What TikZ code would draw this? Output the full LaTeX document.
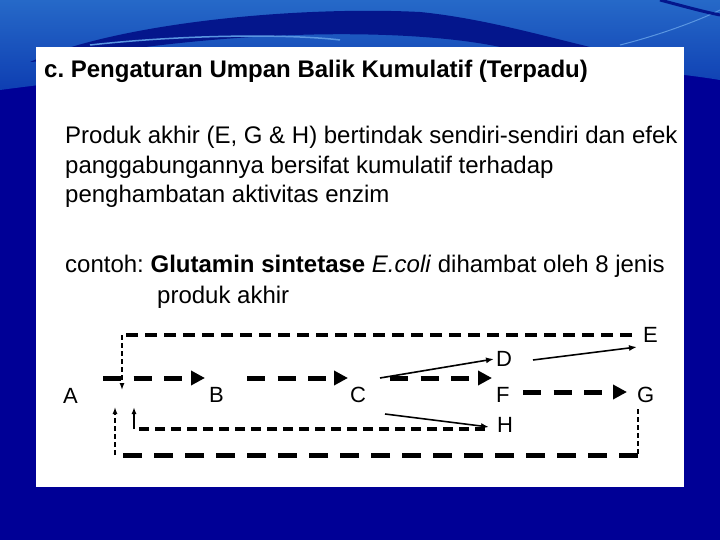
\documentclass[tikz,border=0pt]{standalone}
\usepackage{fontspec}
\setmainfont{Liberation Sans}
\usetikzlibrary{arrows.meta}
\frenchspacing
\definecolor{bgdark}{RGB}{0,0,150}
\definecolor{bglight}{RGB}{38,105,200}
\definecolor{bgmid}{RGB}{14,62,178}
\definecolor{swoosh}{RGB}{4,22,140}
\definecolor{streak}{RGB}{90,150,225}
\tikzset{
  lbl/.style={anchor=base west, inner sep=0pt, font=\fontsize{22}{26}\selectfont},
  txt/.style={anchor=base west, inner sep=0pt, font=\fontsize{24}{29}\selectfont},
  mainarr/.style={line width=5pt, dash pattern=on 18pt off 12.5pt, -{Triangle[length=14pt,width=14pt]}},
  topfb/.style={line width=3.6pt, dash pattern=on 12pt off 7pt},
  hfb/.style={line width=3.3pt, dash pattern=on 10pt off 6pt},
  botfb/.style={line width=5pt, dash pattern=on 19pt off 12pt},
  thindash/.style={line width=1.3pt, dash pattern=on 5pt off 3pt},
  smalltip/.style={-{Latex[length=7pt,width=5pt]}},
  thinarr/.style={line width=1.6pt, -{Latex[length=8pt,width=6pt]}}
}
\begin{document}
\begin{tikzpicture}[x=1pt,y=-1pt]
\useasboundingbox (0,0) rectangle (720,540);
% background
\fill[bgdark] (0,0) rectangle (720,540);
\shade[top color=bglight, bottom color=bgmid] (0,0) -- (720,0) -- (720,80) .. controls (600,60) and (300,50) .. (0,90) -- cycle;
\fill[swoosh] (30,62) .. controls (120,22) and (300,6) .. (420,12) .. controls (480,18) and (540,35) .. (590,47) -- (500,47) .. controls (420,30) and (250,26) .. (60,60) -- cycle;
\draw[streak, line width=1.5pt] (90,45) .. controls (200,33) and (300,35) .. (340,40);
\draw[streak, line width=1pt] (620,45) .. controls (660,35) and (700,20) .. (720,10);
\draw[swoosh, line width=3pt] (660,0) .. controls (690,8) and (705,12) .. (720,15);
% white panel
\fill[white] (36,47) rectangle (684,487);
% texts
\node[anchor=base west, inner sep=0pt, font=\fontsize{24}{29}\selectfont\bfseries] (title) at (44,78) {c. Pengaturan Umpan Balik Kumulatif (Terpadu)};
\node[txt] (p1) at (65,144) {Produk akhir (E, G \& H) bertindak sendiri-sendiri dan efek};
\node[txt] (p2) at (65,174) {panggabungannya bersifat kumulatif terhadap};
\node[txt] (p3) at (65,203) {penghambatan aktivitas enzim};
\node[txt] (c1) at (65,272) {contoh: \textbf{Glutamin sintetase} \textit{E.coli} dihambat oleh 8 jenis};
\node[txt] (c2) at (157,303) {produk akhir};
% labels
\node[lbl] (A) at (63,403) {A};
\node[lbl] (B) at (209,402) {B};
\node[lbl] (C) at (350,402) {C};
\node[lbl] (D) at (496,366) {D};
\node[lbl] (F) at (496,402) {F};
\node[lbl] (H) at (497,432) {H};
\node[lbl] (E) at (643,342) {E};
\node[lbl] (G) at (637,402) {G};
% coordinates
\coordinate (ab0) at (103,378); \coordinate (ab1) at (205,378);
\coordinate (bc0) at (247,378); \coordinate (bc1) at (348,378);
\coordinate (cf0) at (390,378); \coordinate (cf1) at (492,378);
\coordinate (fg0) at (523,392); \coordinate (fg1) at (627,392);
\coordinate (e0) at (632,335); \coordinate (e1) at (122,335); \coordinate (e2) at (122,390);
\coordinate (h0) at (485,429); \coordinate (h1) at (134,429); \coordinate (h2) at (134,407);
\coordinate (g0) at (638,409); \coordinate (g1) at (638,455); \coordinate (g2) at (115,455); \coordinate (g3) at (115,407);
\coordinate (cd0) at (380,378); \coordinate (cd1) at (494,359);
\coordinate (ch0) at (385,414); \coordinate (ch1) at (489,427);
\coordinate (de0) at (533,360); \coordinate (de1) at (637,347);
% main pathway
\draw[mainarr] (ab0) -- (ab1);
\draw[mainarr] (bc0) -- (bc1);
\draw[mainarr] (cf0) -- (cf1);
\draw[mainarr] (fg0) -- (fg1);
% thin arrows
\draw[thinarr] (cd0) -- (cd1);
\draw[thinarr] (ch0) -- (ch1);
\draw[thinarr] (de0) -- (de1);
% feedback from E
\draw[topfb] (e0) -- (e1);
\draw[thindash, smalltip] (e1) -- (e2);
% feedback from H
\draw[hfb] (h0) -- (h1);
\draw[line width=2pt, smalltip] (h1) -- (h2);
% feedback from G
\draw[thindash] (g0) -- (g1);
\draw[botfb] (g1) -- (g2);
\draw[thindash, smalltip] (g2) -- (g3);
\end{tikzpicture}
\end{document}
